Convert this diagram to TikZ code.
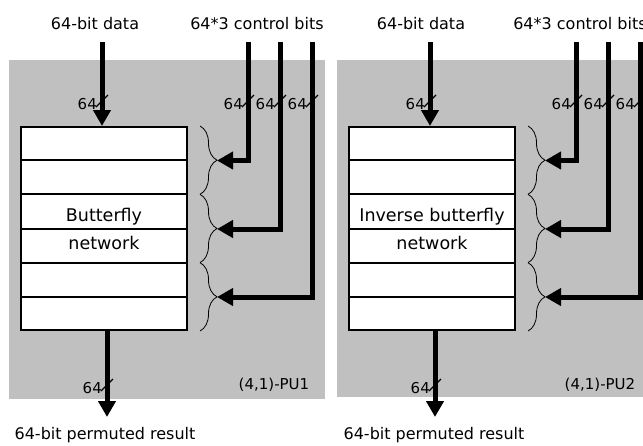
\documentclass[tikz,border=0pt]{standalone}
\usepackage{fontspec}
\setmainfont{DejaVu Sans}
\usetikzlibrary{arrows.meta, positioning, calc, decorations.pathreplacing}
\definecolor{panelgray}{RGB}{192,192,192}

\begin{document}
\begin{tikzpicture}[
    x=1pt, y=-1pt,
    >={Triangle[length=16pt,width=17pt]},
    every node/.style={inner sep=0pt},
    lbl/.style={font=\fontsize{16}{19}\selectfont},
    unitlbl/.style={font=\fontsize{15}{18}\selectfont},
    widthlbl/.style={font=\fontsize{15}{18}\selectfont, anchor=east},
    panel/.style={fill=panelgray},
    network/.style={draw=black, line width=2pt, fill=white,
                    minimum width=166pt, minimum height=203pt,
                    align=center, font=\fontsize{17.5}{28}\selectfont},
    row/.style={line width=2pt},
    bus/.style={->, line width=5pt, line join=miter},
    ctrlbrace/.style={decorate, decoration={brace, amplitude=17pt},
                      line width=0.8pt},
    slash/.style={line width=1.2pt}
  ]
  \useasboundingbox (0,0) rectangle (643,445);

  % ===== PU1: BUTTERFLY =====
  \fill[panel] (9,60) rectangle (325,399);
  \node[network] (bf1) at (104,228.5) {Butterfly\\network};
  \foreach \k in {1,...,5}
    \draw[row] ($(bf1.north west)!\k/6!(bf1.south west)$) -- ($(bf1.north east)!\k/6!(bf1.south east)$);
  \node[unitlbl] (pu1) at (274,385) {(4,1)-PU1};

  % data in / out
  \node[lbl] (din1) at (95,24) {64-bit data};
  \coordinate (dsrc1) at (102,42);
  \draw[bus] (dsrc1) -- (dsrc1 |- bf1.north);
  \node[lbl] (dres1) at (105,435) {64-bit permuted result};
  \coordinate (dsnk1) at (107,417);
  \draw[bus] (dsnk1 |- bf1.south) -- (dsnk1);

  % control bits: three groups of 64
  \node[lbl] (cin1) at (257,24) {64*3 control bits};
  \draw[ctrlbrace] ($(bf1.north east)+(12,0)$) -- ($(bf1.north east)!2/6!(bf1.south east)+(12,0)$);
  \draw[ctrlbrace] ($(bf1.north east)!2/6!(bf1.south east)+(12,0)$) -- ($(bf1.north east)!4/6!(bf1.south east)+(12,0)$);
  \draw[ctrlbrace] ($(bf1.north east)!4/6!(bf1.south east)+(12,0)$) -- ($(bf1.south east)+(12,0)$);
  \coordinate (tip11) at (217,160.5);
  \coordinate (tip12) at (217,229);
  \coordinate (tip13) at (217,297);
  \coordinate (csrc11) at (248,42);
  \coordinate (csrc12) at (280,42);
  \coordinate (csrc13) at (312,42);
  \draw[bus] (csrc11) |- (tip11);
  \draw[bus] (csrc12) |- (tip12);
  \draw[bus] (csrc13) |- (tip13);

  % bus widths
  \foreach \bx/\by in {102/101, 248/101, 280/101, 312/101, 107/385} {
    \draw[slash] (\bx-6,\by+6) -- (\bx+6,\by-6);
    \node[widthlbl] at (\bx-5,\by+3) {64};
  }

  % ===== PU2: INVERSE BUTTERFLY =====
  \fill[panel] (337,60) rectangle (653,397);
  \node[network] (bf2) at (432,228.5) {Inverse butterfly\\network};
  \foreach \k in {1,...,5}
    \draw[row] ($(bf2.north west)!\k/6!(bf2.south west)$) -- ($(bf2.north east)!\k/6!(bf2.south east)$);
  \node[unitlbl] (pu2) at (600,385) {(4,1)-PU2};

  % data in / out
  \node[lbl] (din2) at (421,24) {64-bit data};
  \coordinate (dsrc2) at (430,42);
  \draw[bus] (dsrc2) -- (dsrc2 |- bf2.north);
  \node[lbl] (dres2) at (434,435) {64-bit permuted result};
  \coordinate (dsnk2) at (435,417);
  \draw[bus] (dsnk2 |- bf2.south) -- (dsnk2);

  % control bits: three groups of 64
  \node[lbl] (cin2) at (580,24) {64*3 control bits};
  \draw[ctrlbrace] ($(bf2.north east)+(12,0)$) -- ($(bf2.north east)!2/6!(bf2.south east)+(12,0)$);
  \draw[ctrlbrace] ($(bf2.north east)!2/6!(bf2.south east)+(12,0)$) -- ($(bf2.north east)!4/6!(bf2.south east)+(12,0)$);
  \draw[ctrlbrace] ($(bf2.north east)!4/6!(bf2.south east)+(12,0)$) -- ($(bf2.south east)+(12,0)$);
  \coordinate (tip21) at (545,160.5);
  \coordinate (tip22) at (545,229);
  \coordinate (tip23) at (545,297);
  \coordinate (csrc21) at (576,42);
  \coordinate (csrc22) at (608,42);
  \coordinate (csrc23) at (640,42);
  \draw[bus] (csrc21) |- (tip21);
  \draw[bus] (csrc22) |- (tip22);
  \draw[bus] (csrc23) |- (tip23);

  % bus widths
  \foreach \bx/\by in {430/101, 576/101, 608/101, 640/101, 435/385} {
    \draw[slash] (\bx-6,\by+6) -- (\bx+6,\by-6);
    \node[widthlbl] at (\bx-5,\by+3) {64};
  }

\end{tikzpicture}
\end{document}
